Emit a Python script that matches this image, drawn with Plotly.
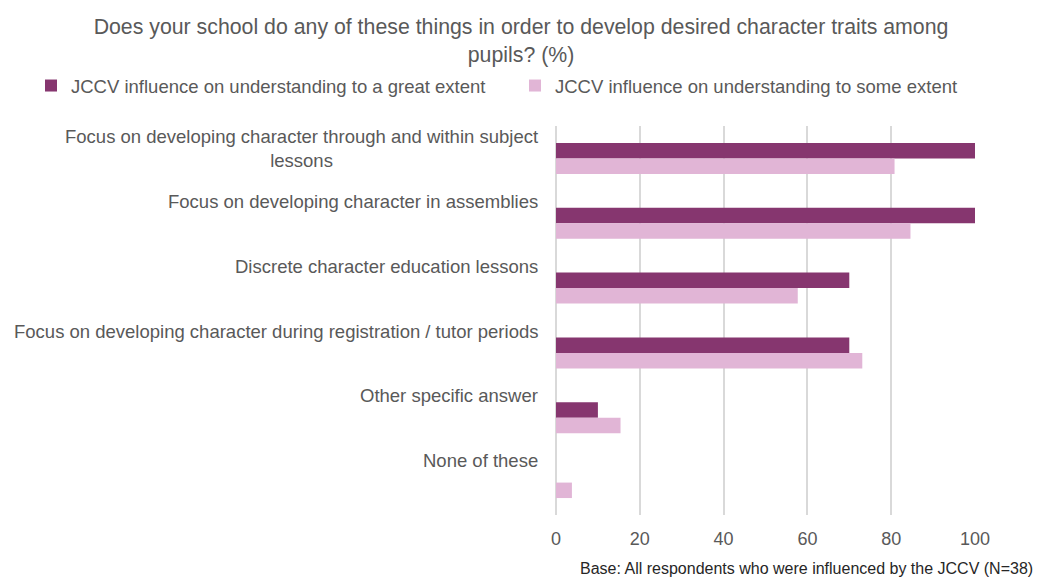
import plotly.graph_objects as go

# Survey items, top to bottom
categories = [
    "Focus on developing character through and within subject<br>lessons",
    "Focus on developing character in assemblies",
    "Discrete character education lessons",
    "Focus on developing character during registration / tutor periods",
    "Other specific answer",
    "None of these",
]
great_extent = [100, 100, 70, 70, 10, 0]
some_extent = [80.8, 84.6, 57.7, 73.1, 15.4, 3.8]

series_names = [
    "JCCV influence on understanding to a great extent",
    "JCCV influence on understanding to some extent",
]
x_ticks = [0, 20, 40, 60, 80, 100]

FONT = "Liberation Sans, Arial, sans-serif"
TEXT_GREY = "#595959"
GRID = "#d9d9d9"
DARK = "#86366f"
LIGHT = "#e1b5d6"
W, H = 1042, 587

fig = go.Figure()
fig.add_trace(go.Bar(
    y=categories, x=great_extent, orientation="h", name=series_names[0],
    marker=dict(color=DARK, line=dict(width=0)), legend="legend",
))
fig.add_trace(go.Bar(
    y=categories, x=some_extent, orientation="h", name=series_names[1],
    marker=dict(color=LIGHT, line=dict(width=0)), legend="legend2",
))

# Category labels sit near the top of each band
for i, cat in enumerate(categories):
    fig.add_annotation(
        x=0, xref="paper", xanchor="right", xshift=-16,
        y=i - 0.5, yref="y", yanchor="top", yshift=2,
        text=cat, showarrow=False, align="center",
        font=dict(family=FONT, size=18.5, color=TEXT_GREY),
    )

fig.add_annotation(
    x=1, xref="paper", xanchor="right", xshift=60,
    y=0, yref="paper", yanchor="middle", yshift=-53,
    text="Base: All respondents who were influenced by the JCCV (N=38)",
    showarrow=False, font=dict(family=FONT, size=16, color="#262626"),
)

legend_common = dict(
    orientation="h", xref="container", yref="container",
    xanchor="left", yanchor="middle", y=1 - 86 / H,
    font=dict(family=FONT, size=18.5, color=TEXT_GREY),
    itemwidth=30, bgcolor="rgba(0,0,0,0)", borderwidth=0,
)

fig.update_layout(
    width=W, height=H,
    margin=dict(l=555.5, r=67, t=125.5, b=72, autoexpand=False),
    paper_bgcolor="white", plot_bgcolor="white",
    barmode="group", bargap=0.523, bargroupgap=0,
    showlegend=True,
    title=dict(
        text="Does your school do any of these things in order to develop desired character traits among<br>pupils? (%)",
        x=0.5, xref="container", xanchor="center",
        y=0.942, yref="container", yanchor="top",
        font=dict(family=FONT, size=21.3, color=TEXT_GREY),
    ),
    legend=dict(x=31 / W, **legend_common),
    legend2=dict(x=515 / W, **legend_common),
    xaxis=dict(
        range=[0, 100], tickvals=x_ticks, showgrid=True, gridcolor=GRID,
        gridwidth=1.5, zeroline=True, zerolinecolor=GRID, zerolinewidth=1.5,
        showline=False, ticks="", ticklabelstandoff=11,
        tickfont=dict(family=FONT, size=18, color=TEXT_GREY),
        fixedrange=True,
    ),
    yaxis=dict(
        range=[len(categories) - 0.5, -0.5], showticklabels=False,
        showgrid=False, zeroline=False, showline=False, ticks="",
        fixedrange=True,
    ),
    font=dict(family=FONT, color=TEXT_GREY),
)

fig.write_html("out.html", config={"displayModeBar": False})
